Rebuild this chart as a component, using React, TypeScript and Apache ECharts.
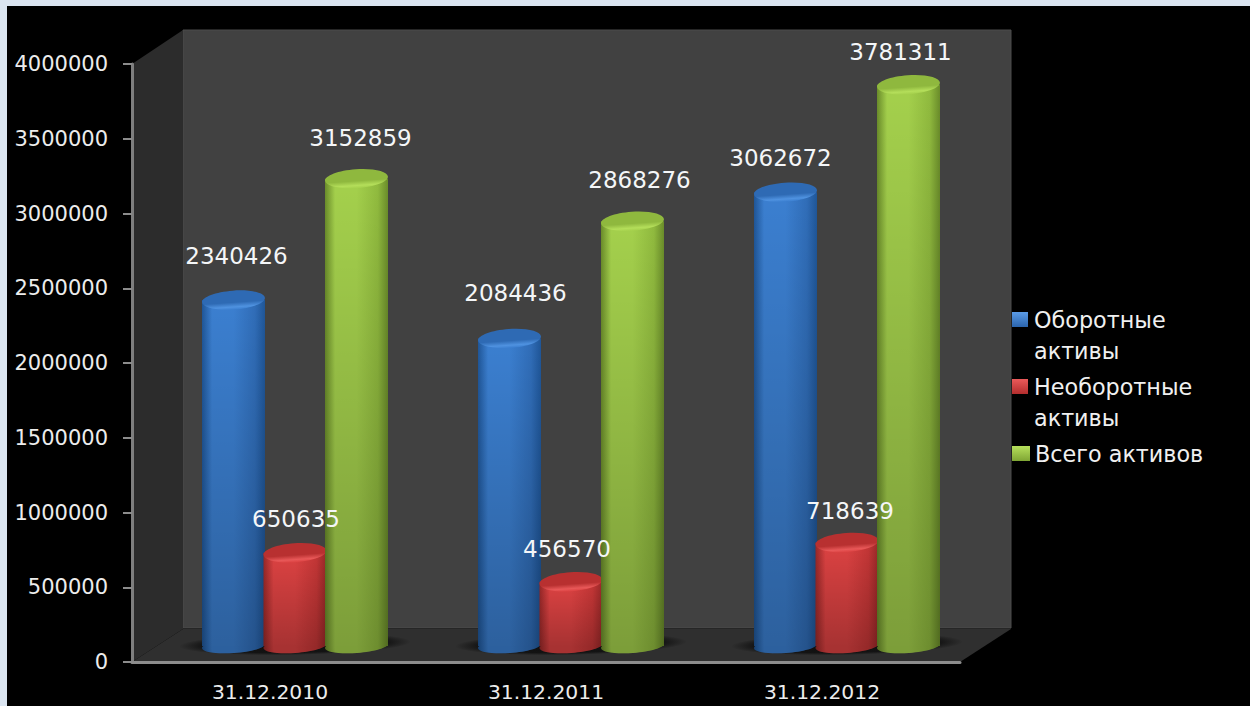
import React, { useEffect, useRef } from "react";
import * as echarts from "echarts";

const dates = ["31.12.2010", "31.12.2011", "31.12.2012"];
const currentAssets = [2340426, 2084436, 3062672];
const fixedAssets = [650635, 456570, 718639];
const totalAssets = [3152859, 2868276, 3781311];
const valueTicks = { min: 0, max: 4000000, step: 500000 };

// Label placement around each cylinder: horizontal nudge and lift above its top, in px.
const currentNudge = [[3, 44], [6, 45], [-5, 34]];
const fixedNudge = [[1, 34], [-4, 33], [3, 32]];
const totalNudge = [[4, 41], [7, 41], [-8, 33]];

const frame = { left: 132, right: 960, top: 64, bottom: 662, depthX: 51, depthY: 33 };
const cylinder = {
  width: 63,
  step: 61.5,
  topRy: 9.5,
  baseRy: 7,
  tilt: 0.07,
  shiftX: 25,
  topShiftY: -12,
  baseShiftY: -16,
};

const hGrad = (edge: string, mid: string, edge2: string) =>
  new echarts.graphic.LinearGradient(0, 0, 1, 0, [
    { offset: 0, color: edge },
    { offset: 0.16, color: mid },
    { offset: 0.5, color: mid },
    { offset: 0.84, color: edge2 },
    { offset: 1, color: edge },
  ]);

const palettes = {
  blue: { edge: "#1f5698", mid: "#3b7fd0", side: "#306db8", cap: "#2e6ab4", rim: "#4f92e0", key: "#3a7bc8" },
  red: { edge: "#982828", mid: "#dc4242", side: "#c43636", cap: "#b83030", rim: "#e85858", key: "#c9403c" },
  green: { edge: "#6a8c2a", mid: "#a4d04c", side: "#90ba3e", cap: "#8fb83e", rim: "#b4de5a", key: "#93bf3f" },
};

function cylinderSeries(name: string, values: number[], slot: number, pal: any) {
  return {
    type: "custom",
    name,
    coordinateSystem: "cartesian2d",
    clip: false,
    itemStyle: { color: pal.key },
    encode: { x: 0, y: 1 },
    data: values.map((v, i) => [i, v]),
    renderItem: (params: any, api: any) => {
      const idx = api.value(0);
      const top = api.coord([idx, api.value(1)]);
      const base = api.coord([idx, 0]);
      const cx = top[0] + cylinder.shiftX + slot * cylinder.step;
      const yTop = top[1] + cylinder.topShiftY;
      const yBase = base[1] + cylinder.baseShiftY;
      const w = cylinder.width;
      const body = hGrad(pal.edge, pal.mid, pal.side);
      const shade = new echarts.graphic.LinearGradient(0, 0, 0, 1, [
        { offset: 0, color: "rgba(0,0,0,0)" },
        { offset: 1, color: "rgba(0,0,0,0.24)" },
      ]);
      const disc = (y: number, ry: number, fill: any) => ({
        type: "group",
        x: cx,
        y,
        rotation: cylinder.tilt,
        children: [{ type: "ellipse", shape: { cx: 0, cy: 0, rx: w / 2, ry }, style: { fill } }],
      });
      const capFill = new echarts.graphic.LinearGradient(0, 0, 0, 1, [
        { offset: 0, color: pal.cap },
        { offset: 0.62, color: pal.cap },
        { offset: 0.86, color: pal.rim },
        { offset: 1, color: pal.mid },
      ]);
      return {
        type: "group",
        children: [
          disc(yBase, cylinder.baseRy, body),
          disc(yBase, cylinder.baseRy, "rgba(0,0,0,0.24)"),
          {
            type: "rect",
            shape: { x: cx - w / 2, y: yTop, width: w, height: yBase - yTop },
            style: { fill: body },
          },
          {
            type: "rect",
            shape: { x: cx - w / 2, y: yTop, width: w, height: yBase - yTop },
            style: { fill: shade },
          },
          disc(yTop, cylinder.topRy, capFill),
        ],
      };
    },
  };
}

// Value captions go in their own series so they stay above the neighbouring cylinders.
function captionSeries(values: number[], slot: number, nudges: number[][]) {
  return {
    type: "custom",
    z: 5,
    silent: true,
    clip: false,
    encode: { x: 0, y: 1 },
    data: values.map((v, i) => [i, v]),
    renderItem: (params: any, api: any) => {
      const idx = api.value(0);
      const val = api.value(1);
      const top = api.coord([idx, val]);
      const nudge = nudges[idx];
      return {
        type: "text",
        style: {
          x: top[0] + cylinder.shiftX + slot * cylinder.step + nudge[0],
          y: top[1] + cylinder.topShiftY - nudge[1],
          text: String(val),
          fill: "#f4f6f8",
          font: "23px 'DejaVu Sans'",
          align: "center",
          verticalAlign: "middle",
        },
      };
    },
  };
}

const floorShadows = {
  type: "custom",
  silent: true,
  z: 1,
  clip: false,
  encode: { x: 0, y: 1 },
  data: dates.map((_, i) => [i, 0]),
  renderItem: (params: any, api: any) => {
    const p = api.coord([api.value(0), 0]);
    return {
      type: "group",
      x: p[0] + cylinder.shiftX,
      y: p[1] - 18,
      rotation: 0.02,
      children: [
        {
          type: "ellipse",
          shape: { cx: 0, cy: 0, rx: 116, ry: 11 },
          style: {
            fill: new echarts.graphic.RadialGradient(0.5, 0.5, 0.5, [
              { offset: 0, color: "rgba(12,12,12,0.95)" },
              { offset: 0.78, color: "rgba(12,12,12,0.8)" },
              { offset: 1, color: "rgba(12,12,12,0)" },
            ]),
          },
        },
      ],
    };
  },
};

function legendIcon(tall: boolean) {
  // A swatch kept at the top of a taller box, so it lines up with the first text line.
  return tall ? "path://M0 0H16V15H0ZM0 46L0 46Z" : "rect";
}

function swatch(light: string, dark: string, span: number) {
  return new echarts.graphic.LinearGradient(0, 0, 0, span, [
    { offset: 0, color: light },
    { offset: 1, color: dark },
  ]);
}

const legendText = { color: "#f0f0f0", fontSize: 22.3, lineHeight: 31, fontFamily: "DejaVu Sans" };

const buildOption = () => {
  const { left, right, top, bottom, depthX, depthY } = frame;
  return {
    animation: false,
    backgroundColor: "#dbe5f1",
    textStyle: { fontFamily: "DejaVu Sans" },
    grid: { left, top, right: 1250 - right, bottom: 706 - bottom, containLabel: false },
    xAxis: {
      type: "category",
      data: dates,
      axisLine: { lineStyle: { color: "#8c8c8c", width: 3 } },
      axisTick: { show: false },
      axisLabel: { color: "#ececec", fontSize: 20.3, margin: 20, fontFamily: "DejaVu Sans" },
    },
    yAxis: {
      type: "value",
      min: valueTicks.min,
      max: valueTicks.max,
      interval: valueTicks.step,
      splitLine: { show: false },
      axisLine: { show: true, lineStyle: { color: "#7f7f7f", width: 3 } },
      axisTick: { show: true, length: 9, lineStyle: { color: "#8c8c8c", width: 2 } },
      axisLabel: {
        color: "#ececec",
        fontSize: 21,
        margin: 24,
        fontFamily: "DejaVu Sans",
        formatter: (v: number) => String(v),
      },
    },
    legend: [
      {
        left: 1012,
        top: 304,
        padding: 0,
        orient: "vertical",
        itemWidth: 18,
        itemHeight: 46,
        itemGap: 5,
        selectedMode: false,
        textStyle: legendText,
        data: [
          {
            name: "Оборотные активы",
            icon: legendIcon(true),
            itemStyle: { color: swatch("#5b9be6", "#2a64ad", 0.33) },
          },
          {
            name: "Необоротные активы",
            icon: legendIcon(true),
            itemStyle: { color: swatch("#ea5a5a", "#b22d2d", 0.33) },
          },
        ],
        formatter: (n: string) => n.replace(" ", "\n"),
      },
      {
        left: 1012,
        top: 438,
        padding: 0,
        itemWidth: 18,
        itemHeight: 15,
        selectedMode: false,
        textStyle: { ...legendText },
        data: [{ name: "Всего активов", icon: legendIcon(false), itemStyle: { color: swatch("#b6e05c", "#7fa534", 1) } }],
      },
    ],
    graphic: {
      elements: [
        { type: "rect", z: -5, shape: { x: 7, y: 6, width: 1243, height: 700 }, style: { fill: "#000" } },
        {
          type: "rect",
          z: -4,
          shape: { x: left + depthX, y: top - depthY - 1, width: right - left, height: bottom - top },
          style: { fill: "#414141", stroke: "#4c4c4c", lineWidth: 1 },
        },
        {
          type: "polygon",
          z: -4,
          shape: {
            points: [
              [left, top],
              [left + depthX, top - depthY - 1],
              [left + depthX, bottom - depthY],
              [left, bottom],
            ],
          },
          style: { fill: "#2c2c2c" },
        },
        {
          type: "polygon",
          z: -4,
          shape: {
            points: [
              [left, bottom],
              [left + depthX, bottom - depthY],
              [right + depthX, bottom - depthY],
              [right, bottom],
            ],
          },
          style: { fill: "#2f2f2f" },
        },
      ],
    },
    series: [
      floorShadows,
      cylinderSeries("Оборотные активы", currentAssets, -1, palettes.blue),
      cylinderSeries("Необоротные активы", fixedAssets, 0, palettes.red),
      cylinderSeries("Всего активов", totalAssets, 1, palettes.green),
      captionSeries(currentAssets, -1, currentNudge),
      captionSeries(fixedAssets, 0, fixedNudge),
      captionSeries(totalAssets, 1, totalNudge),
    ],
  };
};

export default function App() {
  const ref = useRef<HTMLDivElement>(null);
  useEffect(() => {
    const chart = echarts.init(ref.current!, undefined, { renderer: "svg" });
    chart.setOption(buildOption() as any);
    return () => chart.dispose();
  }, []);
  return <div ref={ref} style={{ position: "fixed", left: 0, top: 0, width: 1250, height: 706 }} />;
}
